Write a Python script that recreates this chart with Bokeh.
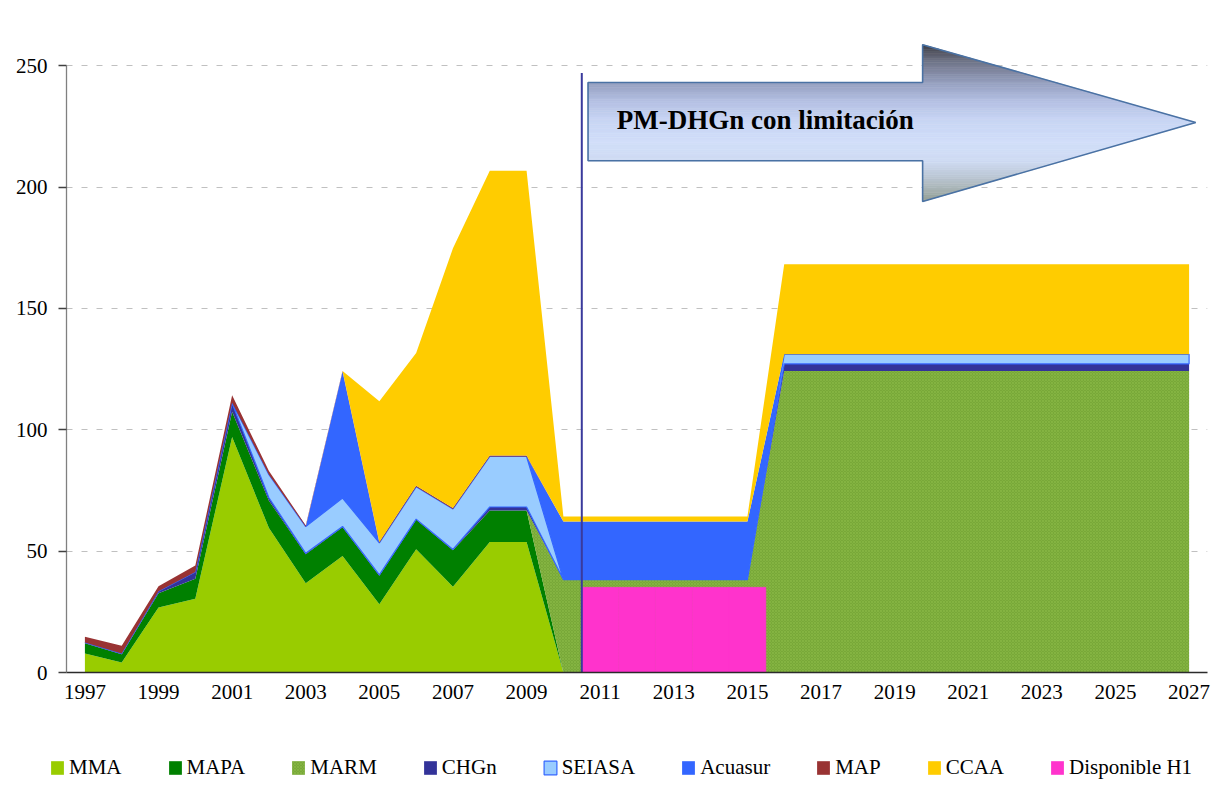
import numpy as np
from bokeh.plotting import figure
from bokeh.layouts import column, row
from bokeh.models import Range1d, FixedTicker, Legend, LegendItem
from bokeh.core.properties import value
from bokeh.embed import file_html
from bokeh.resources import INLINE

# ---------------- data ----------------
years = [1997, 1998, 1999, 2000, 2001, 2002, 2003, 2004, 2005, 2006, 2007,
         2008, 2009, 2010, 2011, 2012, 2013, 2014, 2015, 2016, 2017, 2018,
         2019, 2020, 2021, 2022, 2023, 2024, 2025, 2026, 2027]

MMA = [7.8, 4.1, 26.8, 30.4, 97.0, 59.5, 36.8, 48.0, 28.1, 50.8, 35.3, 53.8, 53.8,
       0, 0, 0, 0, 0, 0, 0, 0, 0, 0, 0, 0, 0, 0, 0, 0, 0, 0]
MAPA = [4.3, 3.4, 5.9, 8.2, 10.4, 11.3, 11.9, 11.9, 11.8, 12.1, 15.1, 12.9, 12.9,
        0, 0, 0, 0, 0, 0, 0, 0, 0, 0, 0, 0, 0, 0, 0, 0, 0, 0]
MARM = [0, 0, 0, 0, 0, 0, 0, 0, 0, 0, 0, 0, 0,
        38.3, 38.3, 38.3, 38.3, 38.3, 38.3,
        124.2, 124.2, 124.2, 124.2, 124.2, 124.2, 124.2, 124.2, 124.2, 124.2, 124.2, 124.2]
CHGn = [0.3, 0.3, 0.8, 2.8, 3.5, 1.2, 0.4, 0.3, 0.3, 0.3, 0.3, 1.5, 1.5,
        0, 0, 0, 0, 0, 0,
        3.0, 3.0, 3.0, 3.0, 3.0, 3.0, 3.0, 3.0, 3.0, 3.0, 3.0, 3.0]
SEIASA = [0, 0, 0, 0, 0.3, 9.5, 11.0, 11.7, 13.2, 13.3, 16.7, 20.8, 20.8,
          0, 0, 0, 0, 0, 0,
          3.9, 3.9, 3.9, 3.9, 3.9, 3.9, 3.9, 3.9, 3.9, 3.9, 3.9, 3.9]
Acuasur = [0, 0, 0, 0, 0, 0, 0, 52.0, 0, 0, 0, 0, 0,
           23.9, 23.9, 23.9, 23.9, 23.9, 23.9,
           0, 0, 0, 0, 0, 0, 0, 0, 0, 0, 0, 0]
MAP = [2.3, 3.2, 2.0, 2.7, 3.0, 1.5, 0.5, 0.3, 0.4, 0.5, 0.4, 0.4, 0.4,
       0, 0, 0, 0, 0, 0, 0, 0, 0, 0, 0, 0, 0, 0, 0, 0, 0, 0]
CCAA = [0, 0, 0, 0, 0, 0, 0, 0, 58.0, 54.6, 107.0, 117.3, 117.3,
        2.1, 2.1, 2.1, 2.1, 2.1, 2.1,
        37.1, 37.1, 37.1, 37.1, 37.1, 37.1, 37.1, 37.1, 37.1, 37.1, 37.1, 37.1]

disp_years = [2011, 2012, 2013, 2014, 2015]
disp_H1 = [35.1, 35.1, 35.1, 35.1, 35.1]

series_names = ["MMA", "MAPA", "MARM", "CHGn", "SEIASA", "Acuasur", "MAP", "CCAA"]
series_vals = [MMA, MAPA, MARM, CHGn, SEIASA, Acuasur, MAP, CCAA]
series_colors = ["#99CC00", "#008000", "#78A838", "#333399", "#99CCFF",
                 "#3366FF", "#993333", "#FFCC00"]
disp_name = "Disponible H1"
disp_color = "#FF33CC"

x_ticks = [1997, 1999, 2001, 2003, 2005, 2007, 2009, 2011, 2013, 2015,
           2017, 2019, 2021, 2023, 2025, 2027]
x_tick_labels = ["1997", "1999", "2001", "2003", "2005", "2007", "2009", "2011",
                 "2013", "2015", "2017", "2019", "2021", "2023", "2025", "2027"]
y_ticks = [0, 50, 100, 150, 200, 250]
grid_ticks = [50, 100, 150, 200, 250]

divider_x = 2010.5
divider_top = 247
arrow_text = "PM-DHGn con limitación"

FONT = "Liberation Serif"


def style_kw(name, color):
    kw = dict(fill_color=color, line_color=None)
    if name == "SEIASA":
        kw.update(line_color="#3366FF", line_width=1.2)
    if name == "MARM":
        kw.update(hatch_pattern="diagonal_cross", hatch_color="#92C24E",
                  hatch_scale=3, hatch_weight=0.6, hatch_alpha=0.7)
    return kw


# ---------------- main figure ----------------
p = figure(width=1212, height=740, output_backend="svg", toolbar_location=None,
           x_range=Range1d(1996.5, 2027.5), y_range=Range1d(0, 260),
           min_border_left=66, min_border_right=5, min_border_top=41,
           min_border_bottom=68)
p.outline_line_color = None
p.background_fill_color = "white"
p.border_fill_color = "white"

p.yaxis.ticker = FixedTicker(ticks=y_ticks)
p.yaxis.bounds = (0, 250)
p.yaxis.major_tick_out = 8
p.yaxis.major_tick_in = 0
p.yaxis.minor_tick_line_color = None
p.yaxis.axis_line_color = "#808080"
p.yaxis.axis_line_width = 1.3
p.yaxis.major_tick_line_color = "#404040"
p.yaxis.major_tick_line_width = 1.3
p.yaxis.major_label_text_font = FONT
p.yaxis.major_label_text_font_size = "21px"
p.yaxis.major_label_text_color = "black"
p.yaxis.major_label_standoff = 11

p.xaxis.ticker = FixedTicker(ticks=x_ticks)
p.xaxis.major_label_overrides = {t: l for t, l in zip(x_ticks, x_tick_labels)}
p.xaxis.major_tick_out = 0
p.xaxis.major_tick_in = 0
p.xaxis.minor_tick_line_color = None
p.xaxis.axis_line_color = "#2b2b2b"
p.xaxis.axis_line_width = 1.6
p.xaxis.major_label_text_font = FONT
p.xaxis.major_label_text_font_size = "21px"
p.xaxis.major_label_text_color = "black"
p.xaxis.major_label_standoff = 12

p.xgrid.visible = False
p.ygrid.ticker = FixedTicker(ticks=grid_ticks)
p.ygrid.grid_line_color = "#c0c0c0"
p.ygrid.grid_line_dash = "6 9"
p.ygrid.grid_line_width = 1

# stacked areas
vals = np.array(series_vals, dtype=float)
tops = np.cumsum(vals, axis=0)
bottoms = tops - vals
xs_poly = list(years) + list(years[::-1])
for i, name in enumerate(series_names):
    ys_poly = list(tops[i]) + list(bottoms[i][::-1])
    p.patch(x=xs_poly, y=ys_poly, **style_kw(name, series_colors[i]))

p.vbar(x=disp_years, top=disp_H1, bottom=0, width=1.0,
       fill_color=disp_color, line_color=disp_color, line_width=0.6)

p.line(x=[divider_x, divider_x], y=[0, divider_top], line_color="#3a3a9c",
       line_width=2)

# gradient block arrow
xl, xh, xt = 2010.67, 2019.76, 2027.18
y_bt, y_bb, y_ht, y_hb, y_t = 243.1, 210.85, 258.7, 194.1, 226.6

stop_y = [194.1, 203.4, 210.9, 219.1, 228.2, 235.7, 243.0, 252.0, 258.7]
stop_c = ["#939f93", "#b8c3cf", "#cfdbf3", "#d1def9", "#c7d4f3", "#b3bfe2",
          "#959fbf", "#6e7386", "#3d3d45"]
stop_rgb = np.array([[int(c[i:i + 2], 16) for i in (1, 3, 5)] for c in stop_c], float)


def grad(y):
    return "#%02x%02x%02x" % tuple(int(round(np.interp(y, stop_y, stop_rgb[:, k])))
                                   for k in range(3))


def x_right(y):
    if y >= y_t:
        return xh + (xt - xh) * (y_ht - y) / (y_ht - y_t)
    return xh + (xt - xh) * (y - y_hb) / (y_t - y_hb)


edges = np.unique(np.concatenate([np.linspace(y_hb, y_ht, 70), [y_bt, y_bb, y_t]]))
a_xs, a_ys, a_cols = [], [], []
for a, b in zip(edges[:-1], edges[1:]):
    mid = 0.5 * (a + b)
    left = xl if (y_bb <= mid <= y_bt) else xh
    a_xs.append([left, x_right(a), x_right(b), left])
    a_ys.append([a, a, b, b])
    a_cols.append(grad(mid))
p.patches(xs=a_xs, ys=a_ys, fill_color=a_cols, line_color=a_cols, line_width=0.6)
p.patch(x=[xl, xh, xh, xt, xh, xh, xl, xl],
        y=[y_bt, y_bt, y_ht, y_t, y_hb, y_bb, y_bb, y_bt],
        fill_color=None, line_color="#4a72a4", line_width=1.6)
p.text(x=[2011.45], y=[227.6], text=[arrow_text], text_font=value(FONT),
       text_font_size="27px", text_font_style="bold", text_color="black",
       text_align="left", text_baseline="middle")

# ---------------- legend strip ----------------
lg = figure(width=1212, height=47, output_backend="svg", toolbar_location=None,
            x_range=Range1d(0, 1), y_range=Range1d(0, 1),
            x_axis_location=None, y_axis_location=None,
            min_border_left=0, min_border_right=0, min_border_top=0,
            min_border_bottom=0)
lg.outline_line_color = None
lg.xgrid.visible = False
lg.ygrid.visible = False
hx, hy = [-5, -4, -4], [-5, -5, -4]   # off-screen proxy shapes for legend swatches
items = []
for i, name in enumerate(series_names):
    r = lg.patch(x=hx, y=hy, **style_kw(name, series_colors[i]))
    items.append(LegendItem(label=name, renderers=[r]))
r = lg.patch(x=hx, y=hy, fill_color=disp_color, line_color=None)
items.append(LegendItem(label=disp_name, renderers=[r]))
legend = Legend(items=items, orientation="horizontal", location=(49, 7),
                glyph_width=16, glyph_height=17, label_standoff=4, spacing=45,
                padding=0, margin=0, border_line_color=None,
                background_fill_alpha=0, label_text_font=FONT,
                label_text_font_size="21px", label_text_color="black")
lg.add_layout(legend, "center")

open("out.html", "w").write(file_html(column(p, row(lg), spacing=0), INLINE))
